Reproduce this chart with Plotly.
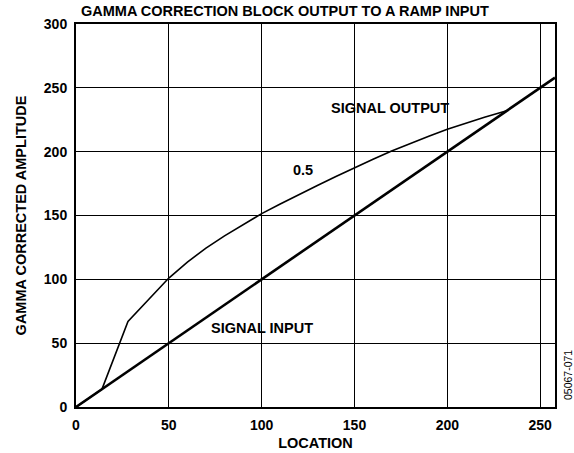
import plotly.graph_objects as go

# Ramp input (identity) and gamma-corrected output (gamma = 0.5)
input_x = [0, 258]
input_y = [0, 258]

output_x = [0, 14, 28, 35, 42, 50, 60, 70, 80, 90, 100, 110, 120, 130, 140,
            150, 160, 170, 180, 190, 200, 210, 220, 232]
output_y = [0, 14, 67, 78, 89, 101, 113.5, 124.5, 134, 143, 151.5, 159, 166.5, 173.5,
            180.5, 187.5, 194, 200.5, 206.5, 212, 217.5, 222.5, 227, 232]

x_ticks = [0, 50, 100, 150, 200, 250]
y_ticks = [0, 50, 100, 150, 200, 250, 300]

FONT = "Arial, Liberation Sans, sans-serif"

fig = go.Figure()
fig.add_trace(go.Scatter(x=input_x, y=input_y, mode="lines",
                         line=dict(color="black", width=2.6), hoverinfo="skip"))
fig.add_trace(go.Scatter(x=output_x, y=output_y, mode="lines",
                         line=dict(color="black", width=1.6), hoverinfo="skip"))

axis_common = dict(
    showgrid=True, gridcolor="black", gridwidth=1,
    showline=True, linecolor="black", linewidth=2, mirror=True,
    zeroline=False, ticks="outside", ticklen=4, tickcolor="rgba(0,0,0,0)",
    automargin=False,
    tickfont=dict(family=FONT, size=14, color="black", weight="bold"),
)

fig.update_layout(
    width=574, height=453,
    margin=dict(l=76, r=19, t=24, b=46),
    paper_bgcolor="white", plot_bgcolor="white",
    showlegend=False,
    xaxis=dict(range=[0, 258], tickvals=x_ticks, **axis_common,
               title=dict(text="<b>LOCATION</b>", standoff=6,
                          font=dict(family=FONT, size=14.5, color="black"))),
    yaxis=dict(range=[0, 300], tickvals=y_ticks, **axis_common,
               title=dict(text="<b>GAMMA CORRECTED AMPLITUDE</b>", standoff=14,
                          font=dict(family=FONT, size=14.5, color="black"))),
    annotations=[
        dict(text="<b>GAMMA CORRECTION BLOCK OUTPUT TO A RAMP INPUT</b>",
             xref="paper", yref="paper", x=(285 - 76) / 479, y=1, yshift=3,
             xanchor="center", yanchor="bottom", showarrow=False,
             font=dict(family=FONT, size=14.5, color="black")),
        dict(text="<b>SIGNAL OUTPUT</b>", x=169, y=234, showarrow=False,
             font=dict(family=FONT, size=14.5, color="black")),
        dict(text="<b>0.5</b>", x=122, y=185.5, showarrow=False,
             font=dict(family=FONT, size=14.5, color="black")),
        dict(text="<b>SIGNAL INPUT</b>", x=100, y=62, showarrow=False,
             font=dict(family=FONT, size=14.5, color="black")),
        dict(text="05067-071", xref="paper", yref="paper", x=1, xshift=13,
             y=(407 - 375) / 383, xanchor="center", yanchor="middle",
             textangle=-90, showarrow=False,
             font=dict(family=FONT, size=10.5, color="black")),
    ],
)

fig.write_html("out.html")
